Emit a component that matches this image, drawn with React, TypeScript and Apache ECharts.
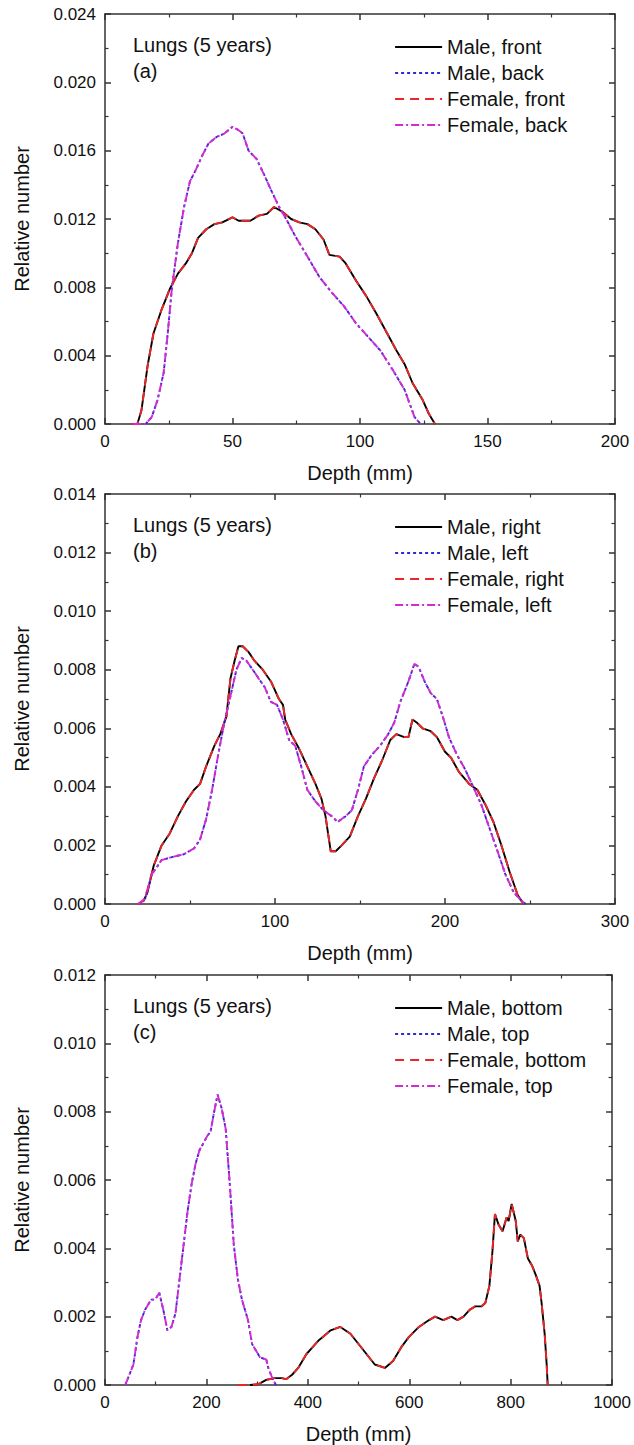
import React, { useEffect, useRef } from "react";
import * as echarts from "echarts";

// Panel (a): front / back
const aMaleFront = [
  [12.7, 0], [14.3, 0.0008], [16.7, 0.0034], [19, 0.0053], [22.2, 0.0067], [25.4, 0.0079],
  [28.6, 0.0088], [31.7, 0.0094], [34.1, 0.01], [36.5, 0.0109], [39.7, 0.0114], [42.9, 0.0117],
  [46, 0.0118], [50, 0.0121], [52.4, 0.0119], [57, 0.0119], [60.3, 0.0122], [63.5, 0.0123],
  [66.3, 0.0127], [69.8, 0.0124], [73, 0.012], [76.2, 0.0118], [79.4, 0.0117], [82.5, 0.0114],
  [85.7, 0.0108], [88, 0.0099], [92, 0.0098], [94.4, 0.0094], [98.4, 0.0084], [102.4, 0.0075],
  [106.3, 0.0065], [110.3, 0.0054], [114.3, 0.0043], [117.5, 0.0035], [120.6, 0.0024],
  [124.6, 0.0014], [127, 0.0006], [129.4, 0]
];
const aMaleBack = [
  [15.9, 0], [18.3, 0.0004], [20.6, 0.0014], [23, 0.003], [24.6, 0.0053], [26.2, 0.0079],
  [28.6, 0.0106], [31, 0.0127], [33.3, 0.0142], [35.7, 0.0149], [38.1, 0.0157], [40.5, 0.0164],
  [43.7, 0.0168], [46.8, 0.017], [50, 0.0174], [52.4, 0.0172], [54, 0.017], [56.3, 0.016],
  [59.5, 0.0155], [62.7, 0.0145], [65.1, 0.0137], [68.3, 0.0127], [71.4, 0.0119], [74.6, 0.011],
  [79.4, 0.0098], [84.1, 0.0086], [88.9, 0.0077], [93.7, 0.0069], [98.4, 0.0059], [103.2, 0.0051],
  [108, 0.0043], [112.7, 0.0032], [117.5, 0.002], [121.4, 0.0004], [123.8, 0]
];
const aFemaleFront = [
  [10.3, 0], [12.7, 0], [14.3, 0.0008], [16.7, 0.0034], [19, 0.0053], [22.2, 0.0067], [25.4, 0.0079],
  [28.6, 0.0088], [31.7, 0.0094], [34.1, 0.01], [36.5, 0.0109], [39.7, 0.0114], [42.9, 0.0117],
  [46, 0.0118], [50, 0.0121], [52.4, 0.0119], [57, 0.0119], [60.3, 0.0122], [63.5, 0.0123],
  [66.3, 0.0127], [69.8, 0.0124], [73, 0.012], [76.2, 0.0118], [79.4, 0.0117], [82.5, 0.0114],
  [85.7, 0.0108], [88, 0.0099], [92, 0.0098], [94.4, 0.0094], [98.4, 0.0084], [102.4, 0.0075],
  [106.3, 0.0065], [110.3, 0.0054], [114.3, 0.0043], [117.5, 0.0035], [120.6, 0.0024],
  [124.6, 0.0014], [127, 0.0006], [129.4, 0]
];
const aFemaleBack = [
  [11, 0], [15.9, 0], [18.3, 0.0004], [20.6, 0.0014], [23, 0.003], [24.6, 0.0053], [26.2, 0.0079],
  [28.6, 0.0106], [31, 0.0127], [33.3, 0.0142], [35.7, 0.0149], [38.1, 0.0157], [40.5, 0.0164],
  [43.7, 0.0168], [46.8, 0.017], [50, 0.0174], [52.4, 0.0172], [54, 0.017], [56.3, 0.016],
  [59.5, 0.0155], [62.7, 0.0145], [65.1, 0.0137], [68.3, 0.0127], [71.4, 0.0119], [74.6, 0.011],
  [79.4, 0.0098], [84.1, 0.0086], [88.9, 0.0077], [93.7, 0.0069], [98.4, 0.0059], [103.2, 0.0051],
  [108, 0.0043], [112.7, 0.0032], [117.5, 0.002], [121.4, 0.0004], [123.8, 0]
];

// Panel (b): right / left
const bMaleRight = [
  [22.6, 0.0001], [25, 0.0004], [28.6, 0.0013], [33.3, 0.002], [38, 0.0024], [42.9, 0.003],
  [47.6, 0.0035], [52.4, 0.0039], [55.9, 0.0041], [59.5, 0.0047], [64.3, 0.0054], [67.8, 0.0058],
  [71.4, 0.0064], [73.8, 0.0077], [76.2, 0.0083], [78.5, 0.0088], [81, 0.0088], [84.5, 0.0086],
  [88, 0.0083], [92.8, 0.008], [97.6, 0.0076], [102.3, 0.007], [104.7, 0.0068], [106, 0.0063],
  [109.5, 0.0058], [114.2, 0.0053], [119, 0.0047], [123.8, 0.0041], [127.3, 0.0036], [129.7, 0.003],
  [132.8, 0.0018], [135.7, 0.0018], [139.2, 0.002], [144, 0.0023], [148.8, 0.003], [153.5, 0.0036],
  [158.3, 0.0043], [163, 0.0049], [167.8, 0.0056], [171.4, 0.0058], [176, 0.0057], [178.5, 0.0057],
  [180.9, 0.0063], [183.3, 0.0062], [186.8, 0.006], [191.6, 0.0059], [195.2, 0.0057], [200, 0.0052],
  [203.5, 0.005], [208.3, 0.0045], [214.2, 0.0041], [219, 0.0039], [223.7, 0.0034], [228.5, 0.0028],
  [233.2, 0.002], [238, 0.0011], [242.8, 0.0003], [246.3, 0]
];
const bMaleLeft = [
  [20.2, 0], [23.8, 0.0002], [27.4, 0.001], [29.8, 0.0012], [33.3, 0.0015], [39.3, 0.0016],
  [46.4, 0.0017], [52.4, 0.0019], [55.9, 0.0022], [59.5, 0.0029], [63, 0.0039], [66.6, 0.0051],
  [70.2, 0.0062], [73.8, 0.0071], [77.3, 0.008], [80.4, 0.0084], [83.3, 0.0083], [86.9, 0.008],
  [90.4, 0.0077], [94, 0.0074], [97.6, 0.0069], [101.2, 0.0068], [104.7, 0.0063], [108.3, 0.0056],
  [111.9, 0.0054], [115.4, 0.0047], [119, 0.0039], [123.8, 0.0035], [128.5, 0.0032], [133.3, 0.003],
  [136.9, 0.0028], [141.6, 0.003], [145.2, 0.0032], [148.8, 0.0039], [152.3, 0.0047], [157, 0.0051],
  [161.8, 0.0054], [166.6, 0.0058], [170.2, 0.0062], [173.7, 0.0069], [178.5, 0.0076], [182, 0.0082],
  [184.5, 0.0081], [188, 0.0076], [191.6, 0.0072], [195.2, 0.007], [198.7, 0.0064], [202.3, 0.0057],
  [207, 0.0051], [211.8, 0.0046], [216.6, 0.004], [221.3, 0.0034], [226.1, 0.0026], [230.9, 0.0018],
  [235.6, 0.001], [240.4, 0.0004], [245.1, 0.0001], [247.5, 0]
];
const bFemaleRight = [
  [19, 0], [22.6, 0.0001], [25, 0.0005], [28.6, 0.0013], [33.3, 0.002], [38, 0.0024], [42.9, 0.003],
  [47.6, 0.0035], [52.4, 0.0039], [55.9, 0.0041], [59.5, 0.0047], [64.3, 0.0054], [67.8, 0.0058],
  [71.4, 0.0064], [73.8, 0.0077], [76.2, 0.0083], [78.5, 0.0088], [81, 0.0088], [84.5, 0.0086],
  [88, 0.0083], [92.8, 0.008], [97.6, 0.0076], [102.3, 0.007], [104.7, 0.0068], [106, 0.0063],
  [109.5, 0.0058], [114.2, 0.0053], [119, 0.0047], [123.8, 0.0041], [127.3, 0.0036], [129.7, 0.003],
  [132.8, 0.0018], [135.7, 0.0018], [139.2, 0.002], [144, 0.0023], [148.8, 0.003], [153.5, 0.0036],
  [158.3, 0.0043], [163, 0.0049], [167.8, 0.0056], [171.4, 0.0058], [176, 0.0057], [178.5, 0.0057],
  [180.9, 0.0063], [183.3, 0.0062], [186.8, 0.006], [191.6, 0.0059], [195.2, 0.0057], [200, 0.0052],
  [203.5, 0.005], [208.3, 0.0045], [214.2, 0.0041], [219, 0.0039], [223.7, 0.0034], [228.5, 0.0028],
  [233.2, 0.002], [238, 0.0011], [242.8, 0.0003], [246.3, 0]
];
const bFemaleLeft = [
  [19.5, 0], [23.8, 0.0002], [27.4, 0.001], [29.8, 0.0012], [33.3, 0.0015], [39.3, 0.0016],
  [46.4, 0.0017], [52.4, 0.0019], [55.9, 0.0022], [59.5, 0.0029], [63, 0.0039], [66.6, 0.0051],
  [70.2, 0.0062], [73.8, 0.0071], [77.3, 0.008], [80.4, 0.0084], [83.3, 0.0083], [86.9, 0.008],
  [90.4, 0.0077], [94, 0.0074], [97.6, 0.0069], [101.2, 0.0068], [104.7, 0.0063], [108.3, 0.0056],
  [111.9, 0.0054], [115.4, 0.0047], [119, 0.0039], [123.8, 0.0035], [128.5, 0.0032], [133.3, 0.003],
  [136.9, 0.0028], [141.6, 0.003], [145.2, 0.0032], [148.8, 0.0039], [152.3, 0.0047], [157, 0.0051],
  [161.8, 0.0054], [166.6, 0.0058], [170.2, 0.0062], [173.7, 0.0069], [178.5, 0.0076], [182, 0.0082],
  [184.5, 0.0081], [188, 0.0076], [191.6, 0.0072], [195.2, 0.007], [198.7, 0.0064], [202.3, 0.0057],
  [207, 0.0051], [211.8, 0.0046], [216.6, 0.004], [221.3, 0.0034], [226.1, 0.0026], [230.9, 0.0018],
  [235.6, 0.001], [240.4, 0.0004], [245.1, 0.0001], [247.5, 0]
];

// Panel (c): bottom / top
const cMaleBottom = [
  [286, 0], [302, 0.00002], [318, 0.00015], [334, 0.0002], [349, 0.0002], [357, 0.00017], [369, 0.0003],
  [381, 0.0005], [397, 0.0009], [409, 0.0011], [421, 0.0013], [429, 0.0014], [445, 0.0016], [464, 0.0017],
  [484, 0.0015], [500, 0.0012], [516, 0.0009], [532, 0.0006], [552, 0.0005], [568, 0.0007], [584, 0.0011],
  [599, 0.0014], [619, 0.0017], [639, 0.0019], [651, 0.002], [667, 0.0019], [683, 0.002], [695, 0.0019],
  [707, 0.002], [719, 0.0022], [730, 0.0023], [742, 0.0023], [750, 0.0024], [758, 0.0029], [764, 0.0039],
  [769, 0.005], [776, 0.0047], [784, 0.0045], [792, 0.0049], [796, 0.0048], [802, 0.0053], [810, 0.0048],
  [814, 0.0042], [819, 0.0044], [826, 0.0043], [834, 0.0037], [842, 0.0035], [850, 0.0032], [857, 0.0029],
  [861, 0.0024], [867, 0.0015], [871, 0.0006], [873, 0]
];
const cMaleTop = [
  [40, 0], [48, 0.0003], [56, 0.0006], [64, 0.0014], [71, 0.0019], [79, 0.0022], [91, 0.0025], [99, 0.0025],
  [107, 0.0027], [115, 0.0022], [123, 0.0016], [131, 0.0017], [139, 0.0021], [147, 0.0031], [155, 0.0041],
  [163, 0.0051], [171, 0.0059], [179, 0.0065], [187, 0.0069], [195, 0.0071], [202, 0.0073], [208, 0.0074],
  [214, 0.0079], [222, 0.0085], [230, 0.0081], [238, 0.0075], [246, 0.0059], [254, 0.0041], [262, 0.0031],
  [270, 0.0025], [282, 0.0019], [290, 0.0012], [302, 0.0009], [306, 0.0008], [318, 0.00075], [322, 0.0005],
  [330, 0.0002], [337, 0]
];
const cFemaleBottom = [
  [262, 0], [286, 0], [302, 0.00002], [318, 0.00015], [334, 0.0002], [349, 0.0002], [357, 0.00017], [369, 0.0003],
  [381, 0.0005], [397, 0.0009], [409, 0.0011], [421, 0.0013], [429, 0.0014], [445, 0.0016], [464, 0.0017],
  [484, 0.0015], [500, 0.0012], [516, 0.0009], [532, 0.0006], [552, 0.0005], [568, 0.0007], [584, 0.0011],
  [599, 0.0014], [619, 0.0017], [639, 0.0019], [651, 0.002], [667, 0.0019], [683, 0.002], [695, 0.0019],
  [707, 0.002], [719, 0.0022], [730, 0.0023], [742, 0.0023], [750, 0.0024], [758, 0.0029], [764, 0.0039],
  [769, 0.005], [776, 0.0047], [784, 0.0045], [792, 0.0049], [796, 0.0048], [802, 0.0053], [810, 0.0048],
  [814, 0.0042], [819, 0.0044], [826, 0.0043], [834, 0.0037], [842, 0.0035], [850, 0.0032], [857, 0.0029],
  [861, 0.0024], [867, 0.0015], [871, 0.0006], [873, 0]
];
const cFemaleTop = [
  [40, 0], [48, 0.0003], [56, 0.0006], [64, 0.0014], [71, 0.0019], [79, 0.0022], [91, 0.0025], [99, 0.0025],
  [107, 0.0027], [115, 0.0022], [123, 0.0016], [131, 0.0017], [139, 0.0021], [147, 0.0031], [155, 0.0041],
  [163, 0.0051], [171, 0.0059], [179, 0.0065], [187, 0.0069], [195, 0.0071], [202, 0.0073], [208, 0.0074],
  [214, 0.0079], [222, 0.0085], [230, 0.0081], [238, 0.0075], [246, 0.0059], [254, 0.0041], [262, 0.0031],
  [270, 0.0025], [282, 0.0019], [290, 0.0012], [302, 0.0009], [306, 0.0008], [318, 0.00075], [322, 0.0005],
  [330, 0.0002], [337, 0]
];

const namesA = ["Male, front", "Male, back", "Female, front", "Female, back"];
const namesB = ["Male, right", "Male, left", "Female, right", "Female, left"];
const namesC = ["Male, bottom", "Male, top", "Female, bottom", "Female, top"];
const tags = ["(a)", "(b)", "(c)"];
const heading = "Lungs (5 years)";
const xMaxes = [200, 300, 1000];
const xSteps = [50, 100, 200];
const yMaxes = [0.024, 0.014, 0.012];
const ySteps = [0.004, 0.002, 0.002];

const FONT = "'Liberation Sans', Arial, Helvetica, sans-serif";
const AXIS_COLOR = "#333";
const styles = [
  { color: "#000000", type: "solid" as any },
  { color: "#2a2ad8", type: [3, 3] as any },
  { color: "#e82828", type: [9, 6] as any },
  { color: "#d42ad4", type: [8, 3, 2, 3] as any },
];

export default function App() {
  const ref = useRef<HTMLDivElement>(null);
  useEffect(() => {
    document.body.style.margin = "0";
    if (!ref.current) return;
    const chart = echarts.init(ref.current, undefined, { renderer: "svg" });
    const panels = [
      { names: namesA, data: [aMaleFront, aMaleBack, aFemaleFront, aFemaleBack] },
      { names: namesB, data: [bMaleRight, bMaleLeft, bFemaleRight, bFemaleLeft] },
      { names: namesC, data: [cMaleBottom, cMaleTop, cFemaleBottom, cFemaleTop] },
    ];
    const tops = [14, 494, 975];
    const gridLeft = 105, gridW = 510, gridH = 410;

    const axisLine = { show: true, onZero: false, lineStyle: { color: AXIS_COLOR, width: 1.5 } };
    const axisTick = { show: true, inside: true, length: 6, lineStyle: { color: AXIS_COLOR, width: 1.5 } };
    const minorTick = { show: true, splitNumber: 2, length: 3.5, lineStyle: { color: AXIS_COLOR, width: 1.2 } };

    const grid: any[] = [];
    const xAxis: any[] = [];
    const yAxis: any[] = [];
    const series: any[] = [];
    const legend: any[] = [];
    const graphic: any[] = [];

    panels.forEach((p, i) => {
      grid.push({ left: gridLeft, top: tops[i], width: gridW, height: gridH });
      const xBase = {
        type: "value", gridIndex: i, min: 0, max: xMaxes[i], interval: xSteps[i],
        axisLine, axisTick, minorTick, splitLine: { show: false },
      };
      const yBase = {
        type: "value", gridIndex: i, min: 0, max: yMaxes[i], interval: ySteps[i],
        axisLine, axisTick, minorTick, splitLine: { show: false },
      };
      xAxis.push({
        ...xBase, position: "bottom",
        name: "Depth (mm)", nameLocation: "middle", nameGap: 39,
        nameTextStyle: { fontFamily: FONT, fontSize: 20, color: "#111" },
        axisLabel: {
          fontFamily: FONT, fontSize: 17, color: "#111", margin: 9,
          formatter: (v: number) => String(Math.round(v)),
        },
      });
      xAxis.push({ ...xBase, position: "top", axisLabel: { show: false } });
      yAxis.push({
        ...yBase, position: "left",
        name: "Relative number", nameLocation: "middle", nameGap: 73, nameRotate: 90,
        nameTextStyle: { fontFamily: FONT, fontSize: 20, color: "#111" },
        axisLabel: {
          fontFamily: FONT, fontSize: 17, color: "#111", margin: 9,
          formatter: (v: number) => v.toFixed(3),
        },
      });
      yAxis.push({ ...yBase, position: "right", axisLabel: { show: false } });

      p.data.forEach((d, k) => {
        series.push({
          type: "line",
          name: p.names[k],
          xAxisIndex: 2 * i,
          yAxisIndex: 2 * i,
          data: d,
          showSymbol: false,
          symbol: "none",
          smooth: false,
          z: 2 + k,
          lineStyle: { color: styles[k].color, type: styles[k].type, width: 1.9 },
          itemStyle: { color: styles[k].color },
        });
      });

      legend.push({
        orient: "vertical",
        left: 389,
        top: tops[i] + 18,
        itemWidth: 47,
        itemHeight: 14,
        itemGap: 6,
        selectedMode: false,
        data: p.names,
        itemStyle: { opacity: 0 },
        lineStyle: { width: 2.2 },
        textStyle: { fontFamily: FONT, fontSize: 20, color: "#111", lineHeight: 20 },
      });

      graphic.push({
        type: "text",
        left: 133,
        top: tops[i] + 21,
        style: { text: heading, fontFamily: FONT, fontSize: 20, fill: "#111" },
      });
      graphic.push({
        type: "text",
        left: 133,
        top: tops[i] + 47,
        style: { text: tags[i], fontFamily: FONT, fontSize: 20, fill: "#111" },
      });
    });

    chart.setOption({
      animation: false,
      backgroundColor: "#ffffff",
      grid,
      xAxis,
      yAxis,
      series,
      legend,
      graphic,
    });
    return () => chart.dispose();
  }, []);
  return <div ref={ref} style={{ width: 634, height: 1445 }} />;
}
